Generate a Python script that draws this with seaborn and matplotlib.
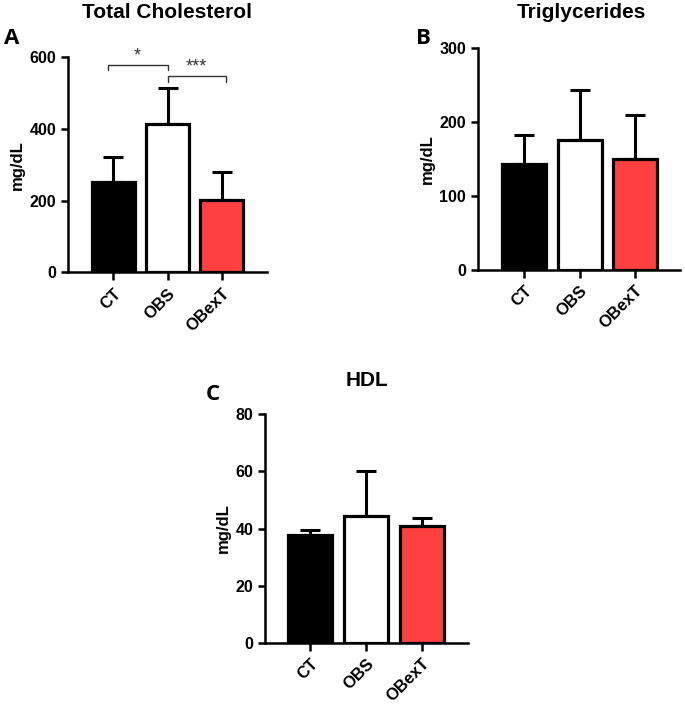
import matplotlib
matplotlib.use("Agg")
import matplotlib.pyplot as plt
import seaborn as sns
import pandas as pd

# group means and upper error
groups = ["CT", "OBS", "OBexT"]
colors = ["#000000", "#ffffff", "#ff4040"]

chol_mean = [253, 415, 202]
chol_err = [70, 99, 77]
tg_mean = [143, 176, 150]
tg_err = [39, 68, 60]
hdl_mean = [37.7, 44.5, 40.9]
hdl_err = [1.8, 15.8, 2.9]

# significance brackets for total cholesterol: (group a, group b, label, height, drop)
chol_sig = [(0, 1, "*", 578, 565), (1, 2, "***", 549, 532)]

sns.set_style("ticks")
plt.rcParams["font.family"] = ["Liberation Sans", "DejaVu Sans"]
plt.rcParams["font.weight"] = "bold"
plt.rcParams["text.color"] = "black"
plt.rcParams["axes.labelcolor"] = "black"
plt.rcParams["xtick.color"] = "black"
plt.rcParams["ytick.color"] = "black"
plt.rcParams["axes.edgecolor"] = "black"

fig = plt.figure(figsize=(6.85, 7.04), dpi=100)


def bar_panel(rect, means, errs, ymax, yticks, xlim):
    ax = fig.add_axes(rect)
    df = pd.DataFrame({"group": groups, "value": means})
    sns.barplot(data=df, x="group", y="value", hue="group", palette=colors,
                saturation=1, edgecolor="black", linewidth=2.3, width=0.79,
                legend=False, ax=ax, zorder=3)
    ax.errorbar(range(len(groups)), means, yerr=[[0] * len(errs), errs],
                fmt="none", ecolor="black", elinewidth=2.2, capsize=7,
                capthick=2.2, zorder=2)
    ax.set_xlim(*xlim)
    ax.set_ylim(0, ymax)
    ax.set_yticks(yticks)
    ax.set_xlabel("")
    ax.set_ylabel("mg/dL", fontsize=12, fontweight="bold", labelpad=3)
    sns.despine(ax=ax)
    for s in ["left", "bottom"]:
        ax.spines[s].set_linewidth(1.8)
    ax.tick_params(axis="both", width=1.8, length=5, labelsize=11.5)
    ax.tick_params(axis="x", length=6, labelsize=12)
    for lab in ax.get_xticklabels():
        lab.set_rotation(45)
        lab.set_ha("right")
        lab.set_rotation_mode("anchor")
        lab.set_fontweight("bold")
    for lab in ax.get_yticklabels():
        lab.set_fontweight("bold")
    return ax


axA = bar_panel([0.0993, 0.613, 0.2905, 0.3054], chol_mean, chol_err, 600,
                [0, 200, 400, 600], (-0.83, 2.83))
axB = bar_panel([0.6978, 0.6165, 0.295, 0.315], tg_mean, tg_err, 300,
                [0, 100, 200, 300], (-0.83, 2.81))
axC = bar_panel([0.3869, 0.0871, 0.2964, 0.3243], hdl_mean, hdl_err, 80,
                [0, 20, 40, 60, 80], (-0.80, 2.82))

for a, b, lab, h, d in chol_sig:
    x0, x1 = a - (0.1 if a == 0 else 0), b + (0.07 if b == 2 else 0)
    axA.plot([x0, x0, x1, x1], [d, h, h, d], color="#333333", lw=1,
             clip_on=False, zorder=4)
    axA.text((x0 + x1) / 2, h + 2, lab, ha="center", va="bottom",
             fontsize=13, color="#333333", fontweight="normal")

# titles and panel letters
fig.text(167 / 685, 1 - 12 / 704, "Total Cholesterol", ha="center",
         va="center", fontsize=15, fontweight="bold")
fig.text(581 / 685, 1 - 12 / 704, "Triglycerides", ha="center",
         va="center", fontsize=15, fontweight="bold")
fig.text(367 / 685, 1 - 380 / 704, "HDL", ha="center",
         va="center", fontsize=15, fontweight="bold")
for x, y, t in [(12, 38, "A"), (423, 38, "B"), (213, 395, "C")]:
    fig.text(x / 685, 1 - y / 704, t, ha="center", va="center",
             fontsize=16, fontweight="bold", family=["Open Sans", "DejaVu Sans"])

fig.savefig("out.png", dpi=100)
